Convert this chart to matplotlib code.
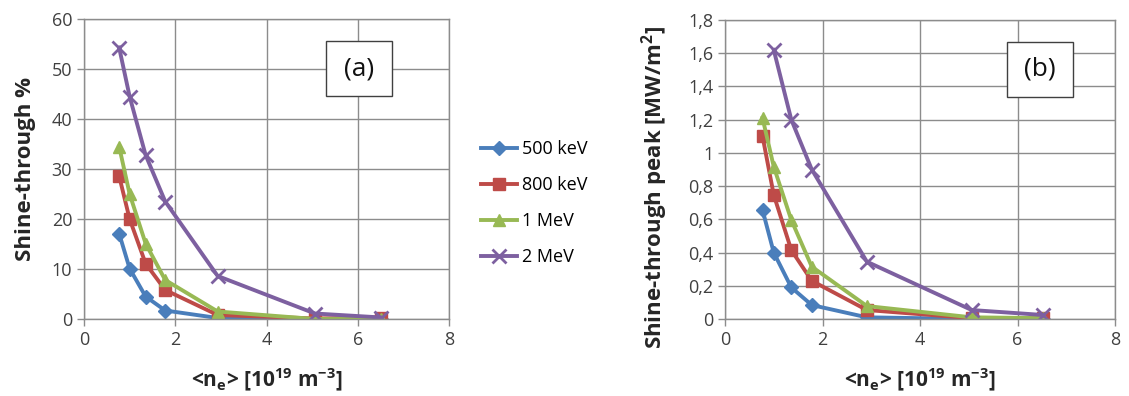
import numpy as np
import matplotlib
matplotlib.use("Agg")
import matplotlib.pyplot as plt
from matplotlib.patches import Rectangle

plt.rcParams['font.family'] = ['Open Sans', 'DejaVu Sans']
plt.rcParams['mathtext.fontset'] = 'custom'
plt.rcParams['mathtext.rm'] = 'Open Sans:bold'
plt.rcParams['mathtext.it'] = 'Open Sans:bold'
plt.rcParams['mathtext.bf'] = 'Open Sans:bold'
plt.rcParams['mathtext.default'] = 'rm'

# density values <ne> [1e19 m^-3]
ne_a = [0.77, 1.0, 1.35, 1.78, 2.93, 5.06, 6.52]
ne_b = [0.77, 1.0, 1.36, 1.78, 2.91, 5.06, 6.53]

labels = ["500 keV", "800 keV", "1 MeV", "2 MeV"]

# panel (a): shine-through %
st_500 = [17.1, 10.1, 4.5, 1.7, 0.2, 0.0, 0.0]
st_800 = [28.6, 20.0, 11.1, 5.8, 0.8, 0.1, 0.3]
st_1M = [34.5, 25.0, 15.1, 7.8, 1.5, 0.0, 0.0]
st_2M = [54.3, 44.5, 32.8, 23.5, 8.6, 1.1, 0.3]

# panel (b): shine-through peak [MW/m2]
pk_500 = [0.656, 0.40, 0.19, 0.084, 0.01, 0.0, 0.0]
pk_800 = [1.10, 0.747, 0.415, 0.23, 0.054, 0.005, 0.005]
pk_1M = [1.21, 0.917, 0.596, 0.315, 0.078, 0.01, 0.005]
pk_2M_x = [1.0, 1.36, 1.78, 2.91, 5.06, 6.53]
pk_2M = [1.62, 1.20, 0.90, 0.345, 0.054, 0.024]

colors = ["#4A7EBB", "#BE4B48", "#98B954", "#7D60A0"]
markers = ["D", "s", "^", "x"]
msizes = [7, 9, 9, 10]

fig = plt.figure(figsize=(11.29, 3.96), dpi=100)
ax1 = fig.add_axes([84/1129, 1-319/396, 365/1129, 300/396])
ax2 = fig.add_axes([725/1129, 1-319/396, 390/1129, 299/396])

def style(ax):
    ax.grid(True, color="#8C8C8C", lw=1)
    ax.set_axisbelow(True)
    for s in ax.spines.values():
        s.set_color("#8C8C8C")
        s.set_linewidth(1)
    ax.tick_params(colors="#8C8C8C", labelcolor="#404040", labelsize=13,
                   length=5, width=1)
    ax.set_xlim(0, 8)
    ax.set_xticks([0, 2, 4, 6, 8])
    ax.set_xlabel("<n$_e$> [10$^{19}$ m$^{-3}$]", fontsize=15,
                  fontweight="bold", color="#262626", labelpad=13)

def tag(ax, txt, x0, x1, y0, y1):
    ax.add_patch(Rectangle((x0, y0), x1 - x0, y1 - y0, transform=ax.transAxes,
                           fc="white", ec="#404040", lw=1, zorder=5))
    ax.text((x0 + x1) / 2, (y0 + y1) / 2, txt, transform=ax.transAxes,
            fontsize=19, ha="center", va="center", color="#111111", zorder=6)

series_a = [st_500, st_800, st_1M, st_2M]
lines = []
for y, c, m, ms, lab in zip(series_a, colors, markers, msizes, labels):
    mew = 2 if m == "x" else 1
    ln, = ax1.plot(ne_a, y, color=c, lw=2.8, marker=m, ms=ms, mew=mew,
                   mec=c, mfc=c, label=lab)
    lines.append(ln)
style(ax1)
ax1.set_ylim(0, 60)
ax1.set_yticks(range(0, 61, 10))
ax1.set_ylabel("Shine-through %", fontsize=16, fontweight="bold",
               color="#262626")
ax1.yaxis.set_label_coords(-0.132, 0.5)
tag(ax1, "(a)", 0.663, 0.844, 0.743, 0.927)

xs_b = [ne_b, ne_b, ne_b, pk_2M_x]
series_b = [pk_500, pk_800, pk_1M, pk_2M]
for x, y, c, m, ms in zip(xs_b, series_b, colors, markers, msizes):
    mew = 2 if m == "x" else 1
    ax2.plot(x, y, color=c, lw=2.8, marker=m, ms=ms, mew=mew, mec=c, mfc=c)
style(ax2)
ax2.set_ylim(0, 1.8)
yt = np.round(np.arange(0, 1.81, 0.2), 1)
ax2.set_yticks(yt)
ax2.set_yticklabels(["0" if v == 0 else ("1" if v == 1 else f"{v:.1f}".replace(".", ",")) for v in yt])
ax2.set_ylabel("Shine-through peak [MW/m$^2$]", fontsize=16, fontweight="bold",
               color="#262626")
ax2.yaxis.set_label_coords(-0.14, 0.44)
tag(ax2, "(b)", 0.723, 0.892, 0.743, 0.927)

fig.legend(handles=lines, loc="upper left", bbox_to_anchor=(481/1129, 1-140/396),
           frameon=False, fontsize=13, handlelength=2.0, handletextpad=0.25,
           labelspacing=1.0, borderaxespad=0, borderpad=0)

fig.savefig("out.png", dpi=100)
